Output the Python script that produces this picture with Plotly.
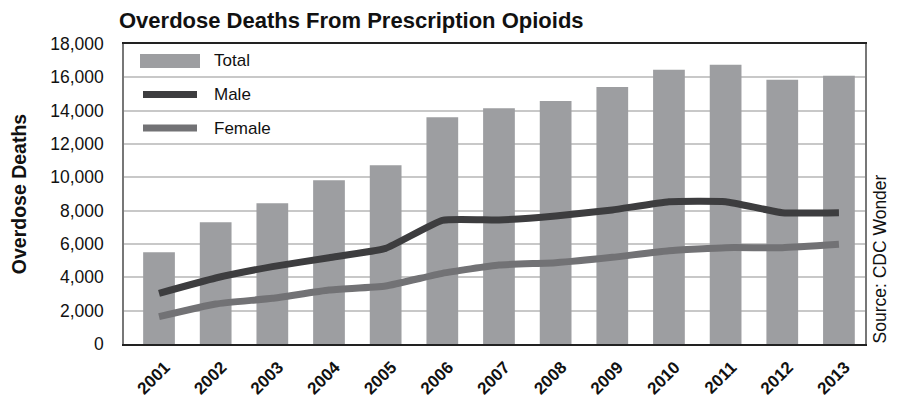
import plotly.graph_objects as go

years = ["2001", "2002", "2003", "2004", "2005", "2006", "2007",
         "2008", "2009", "2010", "2011", "2012", "2013"]
total = [5500, 7300, 8450, 9820, 10720, 13600, 14150, 14580, 15420, 16450, 16750, 15850, 16100]
male = [3040, 3960, 4640, 5180, 5740, 7420, 7440, 7680, 8040, 8540, 8540, 7880, 7880]
female = [1640, 2400, 2740, 3240, 3480, 4240, 4740, 4880, 5200, 5600, 5780, 5780, 5980]
series_names = ["Total", "Male", "Female"]
y_ticks = list(range(0, 18001, 2000))

C_BAR = "#9d9ea1"
C_MALE = "#3d3d3f"
C_FEMALE = "#727275"
FONT = "Liberation Sans, Arial, sans-serif"

fig = go.Figure()
fig.add_trace(go.Bar(x=years, y=total, name=series_names[0], marker_color=C_BAR,
                     marker_line_width=0, width=0.56))
fig.add_trace(go.Scatter(x=years, y=male, name=series_names[1], mode="lines",
                         line=dict(color=C_MALE, width=7, shape="spline", smoothing=0.4)))
fig.add_trace(go.Scatter(x=years, y=female, name=series_names[2], mode="lines",
                         line=dict(color=C_FEMALE, width=7, shape="spline", smoothing=0.4)))

L, R, T, B = 124, 865, 44, 344
W, H = 899, 397


def px(x):
    return (x - L) / (R - L)


def py(y):
    return (B - y) / (B - T)


# custom legend (wide swatches like the original)
leg_y = [61, 94.5, 128]
shapes = [
    dict(type="rect", xref="paper", yref="paper", x0=px(140), x1=px(200),
         y0=py(54), y1=py(68), fillcolor=C_BAR, line_width=0),
    dict(type="line", xref="paper", yref="paper", x0=px(143), x1=px(197),
         y0=py(leg_y[1]), y1=py(leg_y[1]), line=dict(color=C_MALE, width=7)),
    dict(type="line", xref="paper", yref="paper", x0=px(143), x1=px(197),
         y0=py(leg_y[2]), y1=py(leg_y[2]), line=dict(color=C_FEMALE, width=7)),
]
annotations = []
for name, yy in zip(series_names, leg_y):
    annotations.append(dict(text=name, xref="paper", yref="paper", x=px(212), y=py(yy),
                            xanchor="left", yanchor="middle", showarrow=False,
                            font=dict(family=FONT, size=17, color="#111")))

annotations.append(dict(text="Source: CDC Wonder", xref="paper", yref="paper",
                        x=px(879), y=py(346), xanchor="center", yanchor="bottom",
                        textangle=-90, showarrow=False,
                        font=dict(family=FONT, size=17.5, color="#111")))

fig.update_layout(
    width=W, height=H,
    margin=dict(l=L, r=W - R, t=T, b=H - B, pad=0),
    paper_bgcolor="white", plot_bgcolor="white",
    showlegend=False,
    title=dict(text="<b>Overdose Deaths From Prescription Opioids</b>",
               x=119 / W, xanchor="left", y=1 - 20 / H, yanchor="middle",
               font=dict(family=FONT, size=22, color="#111")),
    shapes=shapes, annotations=annotations,
    xaxis=dict(type="category", tickangle=-45, showgrid=False, ticks="",
               showline=True, linecolor="#222", linewidth=1.5, mirror=True,
               ticklabelstandoff=5, ticklabelshift=6, automargin=False,
               tickfont=dict(family=FONT, size=17, color="#111", weight="bold"),
               range=[-0.618, 12.46]),
    yaxis=dict(range=[0, 18000], tickvals=y_ticks,
               ticktext=[f"{v:,}" for v in y_ticks], ticks="",
               showgrid=True, gridcolor="#c8c8c8", gridwidth=1.5,
               showline=True, linecolor="#777", linewidth=1.5, mirror=True,
               zeroline=False, ticklabelstandoff=15, automargin=False,
               tickfont=dict(family=FONT, size=17.5, color="#111"),
               title=dict(text="<b>Overdose Deaths</b>", standoff=18,
                          font=dict(family=FONT, size=19.5, color="#111"))),
    bargap=0.44,
)

fig.write_html("out.html")
